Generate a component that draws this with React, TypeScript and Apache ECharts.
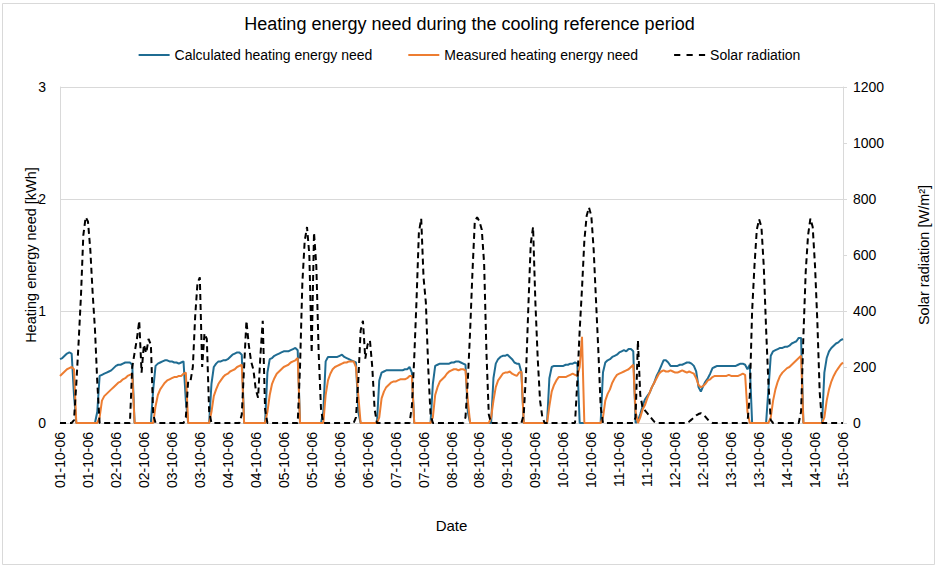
import React, { useEffect, useRef } from "react";
import * as echarts from "echarts";

const FONT = "'Liberation Sans', Arial, Helvetica, sans-serif";

const dayLabels = [
  "01-10-06", "02-10-06", "03-10-06", "04-10-06", "05-10-06",
  "06-10-06", "07-10-06", "08-10-06", "09-10-06", "10-10-06",
  "11-10-06", "12-10-06", "13-10-06", "14-10-06", "15-10-06",
];

// hourly values, one row per day (24 h), plus the final hour 15-10-06 00:00
const calculated = [
  0.57, 0.58, 0.60, 0.62, 0.63, 0.62, 0.25, 0, 0, 0, 0, 0, 0, 0, 0, 0, 0.10, 0.42, 0.43, 0.44, 0.45, 0.46, 0.47, 0.49,
  0.51, 0.52, 0.52, 0.53, 0.54, 0.54, 0.54, 0.52, 0, 0, 0, 0, 0, 0, 0, 0, 0.30, 0.51, 0.53, 0.54, 0.55, 0.56, 0.56, 0.55,
  0.55, 0.54, 0.54, 0.53, 0.54, 0.55, 0.20, 0, 0, 0, 0, 0, 0, 0, 0, 0, 0, 0.35, 0.50, 0.53, 0.55, 0.55, 0.56, 0.56,
  0.57, 0.59, 0.61, 0.62, 0.63, 0.63, 0.61, 0, 0, 0, 0, 0, 0, 0, 0, 0, 0, 0.45, 0.57, 0.58, 0.60, 0.61, 0.62, 0.63,
  0.64, 0.64, 0.64, 0.65, 0.66, 0.67, 0.65, 0, 0, 0, 0, 0, 0, 0, 0, 0, 0, 0.10, 0.55, 0.59, 0.59, 0.59, 0.59, 0.59,
  0.60, 0.61, 0.59, 0.58, 0.57, 0.56, 0.55, 0.54, 0.10, 0, 0, 0, 0, 0, 0, 0, 0, 0.38, 0.45, 0.46, 0.47, 0.47, 0.47, 0.47,
  0.47, 0.47, 0.47, 0.47, 0.48, 0.48, 0.50, 0.45, 0, 0, 0, 0, 0, 0, 0, 0, 0.35, 0.51, 0.52, 0.53, 0.53, 0.53, 0.53, 0.53,
  0.54, 0.54, 0.55, 0.55, 0.54, 0.53, 0.52, 0.10, 0, 0, 0, 0, 0, 0, 0, 0, 0, 0, 0.40, 0.53, 0.57, 0.59, 0.60, 0.60,
  0.61, 0.59, 0.57, 0.54, 0.53, 0.53, 0.45, 0, 0, 0, 0, 0, 0, 0, 0, 0, 0, 0, 0.40, 0.50, 0.51, 0.51, 0.51, 0.51,
  0.51, 0.52, 0.52, 0.53, 0.53, 0.54, 0.53, 0, 0, 0, 0, 0, 0, 0, 0, 0, 0, 0.45, 0.54, 0.56, 0.57, 0.59, 0.60, 0.61,
  0.63, 0.64, 0.65, 0.64, 0.66, 0.66, 0.64, 0, 0.02, 0.08, 0.15, 0.21, 0.24, 0.27, 0.32, 0.36, 0.42, 0.46, 0.51, 0.56, 0.56, 0.54, 0.51, 0.51,
  0.51, 0.51, 0.52, 0.52, 0.53, 0.54, 0.54, 0.53, 0.51, 0.46, 0.32, 0.28, 0.33, 0.37, 0.40, 0.44, 0.49, 0.50, 0.51, 0.51, 0.51, 0.51, 0.51, 0.51,
  0.51, 0.51, 0.51, 0.52, 0.53, 0.53, 0.52, 0.48, 0.52, 0, 0, 0, 0, 0, 0, 0, 0.30, 0.60, 0.64, 0.65, 0.66, 0.67, 0.67, 0.68,
  0.68, 0.69, 0.71, 0.72, 0.73, 0.76, 0.76, 0, 0, 0, 0, 0, 0, 0, 0, 0, 0.45, 0.58, 0.64, 0.67, 0.69, 0.71, 0.72, 0.74,
  0.75,
];

const measured = [
  0.42, 0.44, 0.46, 0.48, 0.49, 0.50, 0.48, 0, 0, 0, 0, 0, 0, 0, 0, 0, 0, 0.05, 0.20, 0.24, 0.26, 0.28, 0.30, 0.32,
  0.34, 0.36, 0.37, 0.39, 0.40, 0.42, 0.43, 0.44, 0, 0, 0, 0, 0, 0, 0, 0, 0, 0.15, 0.25, 0.30, 0.33, 0.36, 0.38, 0.39,
  0.40, 0.41, 0.41, 0.42, 0.42, 0.44, 0.45, 0, 0, 0, 0, 0, 0, 0, 0, 0, 0, 0.10, 0.24, 0.30, 0.35, 0.38, 0.41, 0.43,
  0.44, 0.46, 0.47, 0.48, 0.50, 0.51, 0.52, 0, 0, 0, 0, 0, 0, 0, 0, 0, 0, 0.10, 0.25, 0.35, 0.40, 0.44, 0.46, 0.48,
  0.50, 0.51, 0.52, 0.54, 0.55, 0.56, 0.58, 0, 0, 0, 0, 0, 0, 0, 0, 0, 0, 0, 0.25, 0.38, 0.44, 0.48, 0.50, 0.51,
  0.52, 0.53, 0.54, 0.54, 0.55, 0.55, 0.55, 0.50, 0.25, 0, 0, 0, 0, 0, 0, 0, 0, 0.05, 0.22, 0.28, 0.32, 0.34, 0.36, 0.37,
  0.37, 0.38, 0.39, 0.39, 0.39, 0.40, 0.42, 0.42, 0, 0, 0, 0, 0, 0, 0, 0, 0.05, 0.25, 0.32, 0.37, 0.39, 0.41, 0.44, 0.46,
  0.47, 0.48, 0.48, 0.47, 0.48, 0.48, 0.47, 0.20, 0, 0, 0, 0, 0, 0, 0, 0, 0, 0.05, 0.20, 0.32, 0.38, 0.41, 0.44, 0.45,
  0.45, 0.46, 0.44, 0.43, 0.42, 0.45, 0.46, 0, 0, 0, 0, 0, 0, 0, 0, 0, 0, 0, 0.15, 0.28, 0.34, 0.38, 0.41, 0.41,
  0.41, 0.41, 0.42, 0.43, 0.44, 0.43, 0.42, 0.50, 0.77, 0, 0, 0, 0, 0, 0, 0, 0, 0.05, 0.20, 0.26, 0.30, 0.36, 0.40, 0.43,
  0.44, 0.45, 0.46, 0.47, 0.48, 0.50, 0.52, 0.10, 0, 0.05, 0.12, 0.16, 0.22, 0.27, 0.32, 0.36, 0.40, 0.44, 0.46, 0.47, 0.46, 0.46, 0.47, 0.46,
  0.45, 0.45, 0.46, 0.47, 0.46, 0.45, 0.46, 0.45, 0.44, 0.40, 0.34, 0.32, 0.33, 0.35, 0.38, 0.39, 0.41, 0.42, 0.42, 0.42, 0.42, 0.42, 0.42, 0.43,
  0.42, 0.42, 0.42, 0.42, 0.43, 0.44, 0.43, 0.10, 0, 0, 0, 0, 0, 0, 0, 0, 0, 0.05, 0.20, 0.30, 0.37, 0.42, 0.45, 0.47,
  0.49, 0.50, 0.52, 0.54, 0.56, 0.58, 0.60, 0, 0, 0, 0, 0, 0, 0, 0, 0, 0.05, 0.20, 0.30, 0.37, 0.42, 0.46, 0.49, 0.52,
  0.54,
];

const solar = [
  0, 0, 0, 0, 0, 0, 10, 140, 290, 455, 670, 735, 720, 620, 465, 335, 145, 0, 0, 0, 0, 0, 0, 0,
  0, 0, 0, 0, 0, 0, 0, 200, 250, 300, 365, 180, 280, 250, 300, 280, 30, 0, 0, 0, 0, 0, 0, 0,
  0, 0, 0, 0, 0, 0, 20, 150, 150, 200, 380, 500, 520, 200, 320, 300, 40, 0, 0, 0, 0, 0, 0, 0,
  0, 0, 0, 0, 0, 0, 30, 200, 365, 280, 220, 190, 120, 90, 240, 365, 50, 0, 0, 0, 0, 0, 0, 0,
  0, 0, 0, 0, 0, 0, 0, 200, 500, 650, 700, 600, 250, 680, 560, 250, 50, 0, 0, 0, 0, 0, 0, 0,
  0, 0, 0, 0, 0, 0, 0, 20, 150, 330, 365, 230, 280, 295, 200, 50, 0, 0, 0, 0, 0, 0, 0, 0,
  0, 0, 0, 0, 0, 0, 0, 60, 230, 440, 680, 730, 520, 430, 200, 30, 0, 0, 0, 0, 0, 0, 0, 0,
  0, 0, 0, 0, 0, 0, 20, 150, 330, 540, 720, 735, 720, 690, 570, 250, 30, 0, 0, 0, 0, 0, 0, 0,
  0, 0, 0, 0, 0, 0, 0, 30, 180, 420, 640, 700, 430, 230, 80, 20, 0, 0, 0, 0, 0, 0, 0, 0,
  0, 0, 0, 0, 0, 0, 150, 330, 480, 650, 740, 770, 740, 620, 440, 260, 60, 0, 0, 0, 0, 0, 0, 0,
  0, 0, 0, 0, 0, 0, 0, 20, 295, 100, 55, 45, 35, 25, 15, 5, 0, 0, 0, 0, 0, 0, 0, 0,
  0, 0, 0, 0, 0, 0, 5, 12, 20, 27, 32, 35, 30, 22, 12, 5, 0, 0, 0, 0, 0, 0, 0, 0,
  0, 0, 0, 0, 0, 0, 0, 0, 100, 400, 560, 690, 728, 700, 560, 336, 140, 10, 0, 0, 0, 0, 0, 0,
  0, 0, 0, 0, 0, 0, 40, 310, 540, 670, 730, 700, 560, 360, 110, 0, 0, 0, 0, 0, 0, 0, 0, 0,
  0,
];

const categories = calculated.map(
  (_, i) => `${dayLabels[Math.floor(i / 24)]} ${String(i % 24).padStart(2, "0")}:00`
);

const seriesNames = [
  "Calculated heating energy need",
  "Measured heating energy need",
  "Solar radiation",
];

export default function App() {
  const ref = useRef<HTMLDivElement>(null);

  useEffect(() => {
    document.body.style.margin = "0";
    if (!ref.current) return;
    const chart = echarts.init(ref.current, undefined, { renderer: "svg" });
    const textColor = "#000";
    const grey = "#d9d9d9";
    chart.setOption({
      animation: false,
      backgroundColor: "#ffffff",
      textStyle: { fontFamily: FONT },
      title: {
        text: "Heating energy need during the cooling reference period",
        left: "center",
        top: 10,
        textStyle: { fontSize: 18, fontWeight: "normal", color: textColor, fontFamily: FONT },
      },
      legend: {
        data: [
          { name: seriesNames[0], icon: "rect" },
          { name: seriesNames[1], icon: "rect" },
          { name: seriesNames[2], icon: "path://M0 0h6v2H0zM12 0h6v2h-6zM24 0h6v2h-6z" },
        ],
        top: 43,
        left: "center",
        itemWidth: 31,
        itemHeight: 2,
        itemGap: 36,
        symbolKeepAspect: false,
        textStyle: { fontSize: 14, color: textColor, fontFamily: FONT },
      },
      grid: { left: 60, right: 91, top: 87, bottom: 145, containLabel: false },
      xAxis: {
        type: "category",
        data: categories,
        boundaryGap: false,
        name: "Date",
        nameLocation: "middle",
        nameGap: 95,
        nameMoveOverlap: false,
        nameTextStyle: { fontSize: 15, color: textColor, fontFamily: FONT },
        axisLine: { show: true, lineStyle: { color: grey, width: 1 } },
        axisTick: { show: false },
        axisLabel: {
          interval: 11,
          rotate: 90,
          margin: 9,
          fontSize: 14,
          color: textColor,
          fontFamily: FONT,
          formatter: (v: string) => v.split(" ")[0],
        },
        splitLine: { show: false },
      },
      yAxis: [
        {
          type: "value",
          min: 0,
          max: 3,
          interval: 1,
          name: "Heating energy need [kWh]",
          nameLocation: "middle",
          nameGap: 22,
          nameMoveOverlap: false,
          nameTextStyle: { fontSize: 14.5, color: textColor, fontFamily: FONT },
          axisLine: { show: true, lineStyle: { color: grey } },
          axisTick: { show: false },
          axisLabel: { margin: 14, fontSize: 14, color: textColor, fontFamily: FONT },
          splitLine: { show: true, lineStyle: { color: grey, width: 1 } },
        },
        {
          type: "value",
          min: 0,
          max: 1200,
          interval: 200,
          position: "right",
          name: "Solar radiation [W/m²]",
          nameLocation: "middle",
          nameGap: 73,
          nameMoveOverlap: false,
          nameTextStyle: { fontSize: 14.5, color: textColor, fontFamily: FONT },
          axisLine: { show: true, lineStyle: { color: grey } },
          axisTick: { show: true, length: 4, lineStyle: { color: grey } },
          axisLabel: {
            margin: 10,
            fontSize: 14,
            color: textColor,
            fontFamily: FONT,
            formatter: (v: number) => String(v),
          },
          splitLine: { show: false },
        },
      ],
      series: [
        {
          name: seriesNames[0],
          type: "line",
          yAxisIndex: 0,
          data: calculated,
          symbol: "none",
          lineStyle: { color: "#1F6C92", width: 2 },
          itemStyle: { color: "#1F6C92" },
        },
        {
          name: seriesNames[1],
          type: "line",
          yAxisIndex: 0,
          data: measured,
          symbol: "none",
          lineStyle: { color: "#ED7D31", width: 2 },
          itemStyle: { color: "#ED7D31" },
        },
        {
          name: seriesNames[2],
          type: "line",
          yAxisIndex: 1,
          data: solar,
          symbol: "none",
          lineStyle: { color: "#000000", width: 2, type: [6, 4] },
          itemStyle: { color: "#000000" },
        },
      ],
      graphic: [
        {
          type: "rect",
          shape: { x: 2.5, y: 3.5, width: 932, height: 561 },
          style: { fill: "none", stroke: grey, lineWidth: 1 },
          silent: true,
          z: -1,
        },
      ],
    });
    return () => chart.dispose();
  }, []);

  return (
    <div
      ref={ref}
      style={{ position: "absolute", left: 0, top: 0, width: 939, height: 568 }}
    />
  );
}
